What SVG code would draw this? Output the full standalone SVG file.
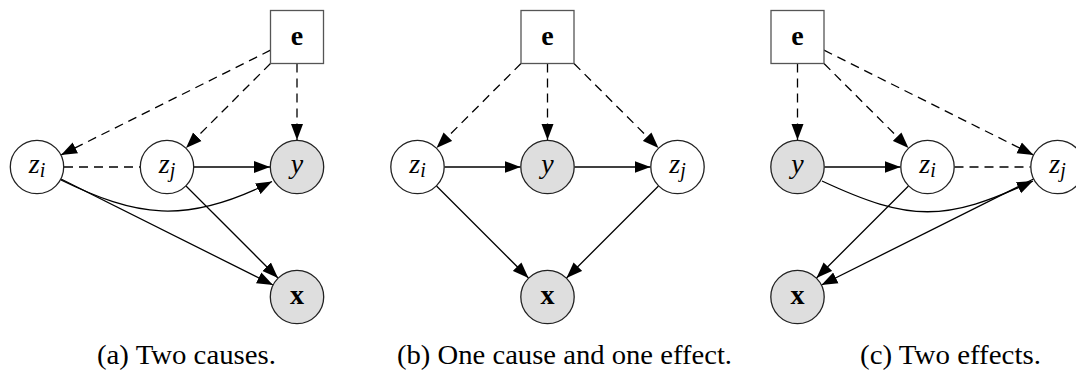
<svg xmlns="http://www.w3.org/2000/svg" width="1076" height="372" viewBox="0 0 1076 372">
<style>
.box{fill:#fff;stroke:#555;stroke-width:1.3}
.lat{fill:#fff;stroke:#222;stroke-width:1.3}
.obs{fill:#dedede;stroke:#222;stroke-width:1.3}
.lbl{font-size:28px;fill:#000;text-anchor:middle}
.b{font-weight:bold}
.i{font-style:italic}
.sub{font-size:20px;font-style:italic}
.e{fill:none;stroke:#000;stroke-width:1.3}
.d{stroke-dasharray:9,6}
.cap{font-size:27px;fill:#000}
</style>
<defs>
<marker id="ah" markerUnits="userSpaceOnUse" markerWidth="17" markerHeight="13" viewBox="0 0 17 13" refX="16" refY="6.5" orient="auto">
<path d="M0,0.5 L16,6.5 L0,12.5 z" fill="#000"/>
</marker>
</defs>
<rect width="1076" height="372" fill="#fff"/>

<g id="connectors">
<path class="e d" d="M270.5,50.2 L61,155" marker-end="url(#ah)"/>
<path class="e d" d="M270.5,63.5 L186,148" marker-end="url(#ah)"/>
<path class="e d" d="M297,63.5 L297,140" marker-end="url(#ah)"/>
<path class="e d" d="M64,167 L140,167"/>
<path class="e" d="M194,167 L270,167" marker-end="url(#ah)"/>
<path class="e" d="M61,180 C135,216 185,226 272,181.5" marker-end="url(#ah)"/>
<path class="e" d="M61,179 L273,285" marker-end="url(#ah)"/>
<path class="e" d="M186,186 L278,278" marker-end="url(#ah)"/>
<path class="e d" d="M521,63.5 L436.5,148" marker-end="url(#ah)"/>
<path class="e d" d="M547.5,63.5 L547.5,140" marker-end="url(#ah)"/>
<path class="e d" d="M574,63.5 L658.5,148" marker-end="url(#ah)"/>
<path class="e" d="M444.5,167 L520.5,167" marker-end="url(#ah)"/>
<path class="e" d="M574.5,167 L650.5,167" marker-end="url(#ah)"/>
<path class="e" d="M436.5,186 L528.5,278" marker-end="url(#ah)"/>
<path class="e" d="M658.5,186 L566.5,278" marker-end="url(#ah)"/>
<path class="e d" d="M797.5,63.5 L797.5,140" marker-end="url(#ah)"/>
<path class="e d" d="M824,63.5 L908.5,148" marker-end="url(#ah)"/>
<path class="e d" d="M824,50.2 L1033.5,155" marker-end="url(#ah)"/>
<path class="e" d="M824.5,167 L900.5,167" marker-end="url(#ah)"/>
<path class="e d" d="M954.5,167 L1030.5,167"/>
<path class="e" d="M822,181 C910,222 945,222 1033,181" marker-end="url(#ah)"/>
<path class="e" d="M908.5,186 L816.5,278" marker-end="url(#ah)"/>
<path class="e" d="M1033.5,179 L821.5,285" marker-end="url(#ah)"/>
</g>

<g font-family="Liberation Serif">
<g id="a_e"><rect class="box" x="270.5" y="10.5" width="53" height="53"/><text class="lbl b" x="297" y="45">e</text></g>
<g id="a_zi"><circle class="lat" cx="37" cy="167" r="26.7"/><text class="lbl" x="37" y="173"><tspan class="i">z</tspan><tspan class="sub" dy="3.5">i</tspan></text></g>
<g id="a_zj"><circle class="lat" cx="167" cy="167" r="26.7"/><text class="lbl" x="167" y="173"><tspan class="i">z</tspan><tspan class="sub" dy="3.5">j</tspan></text></g>
<g id="a_y"><circle class="obs" cx="297" cy="167" r="26.7"/><text class="lbl i" x="297" y="173">y</text></g>
<g id="a_x"><circle class="obs" cx="297" cy="297" r="26.7"/><text class="lbl b" x="297" y="304">x</text></g>

<g id="b_e"><rect class="box" x="521" y="10.5" width="53" height="53"/><text class="lbl b" x="547.5" y="45">e</text></g>
<g id="b_zi"><circle class="lat" cx="417.5" cy="167" r="26.7"/><text class="lbl" x="417.5" y="173"><tspan class="i">z</tspan><tspan class="sub" dy="3.5">i</tspan></text></g>
<g id="b_y"><circle class="obs" cx="547.5" cy="167" r="26.7"/><text class="lbl i" x="547.5" y="173">y</text></g>
<g id="b_zj"><circle class="lat" cx="677.5" cy="167" r="26.7"/><text class="lbl" x="677.5" y="173"><tspan class="i">z</tspan><tspan class="sub" dy="3.5">j</tspan></text></g>
<g id="b_x"><circle class="obs" cx="547.5" cy="297" r="26.7"/><text class="lbl b" x="547.5" y="304">x</text></g>

<g id="c_e"><rect class="box" x="771" y="10.5" width="53" height="53"/><text class="lbl b" x="797.5" y="45">e</text></g>
<g id="c_y"><circle class="obs" cx="797.5" cy="167" r="26.7"/><text class="lbl i" x="797.5" y="173">y</text></g>
<g id="c_zi"><circle class="lat" cx="927.5" cy="167" r="26.7"/><text class="lbl" x="927.5" y="173"><tspan class="i">z</tspan><tspan class="sub" dy="3.5">i</tspan></text></g>
<g id="c_zj"><circle class="lat" cx="1057.5" cy="167" r="26.7"/><text class="lbl" x="1057.5" y="173"><tspan class="i">z</tspan><tspan class="sub" dy="3.5">j</tspan></text></g>
<g id="c_x"><circle class="obs" cx="797.5" cy="297" r="26.7"/><text class="lbl b" x="797.5" y="304">x</text></g>

<g id="captions">
<text class="cap" x="97" y="364" textLength="179" lengthAdjust="spacingAndGlyphs">(a) Two causes.</text>
<text class="cap" x="397" y="364" textLength="335" lengthAdjust="spacingAndGlyphs">(b) One cause and one effect.</text>
<text class="cap" x="860" y="364" textLength="181" lengthAdjust="spacingAndGlyphs">(c) Two effects.</text>
</g>
</g>
</svg>
